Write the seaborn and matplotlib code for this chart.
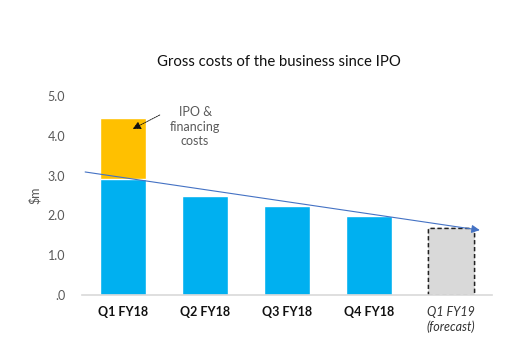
import pandas as pd
import matplotlib
matplotlib.use("Agg")
import matplotlib.pyplot as plt
import seaborn as sns
from matplotlib.ticker import FuncFormatter

quarters = ["Q1 FY18", "Q2 FY18", "Q3 FY18", "Q4 FY18", "Q1 FY19\n(forecast)"]
core_costs = [2.91, 2.49, 2.24, 1.98, 1.68]
ipo_costs = [1.54, 0, 0, 0, 0]
trend_start = (-0.46, 3.09)
trend_end = (4.35, 1.63)

df = pd.DataFrame({"quarter": quarters, "core": core_costs,
                   "total": [c + i for c, i in zip(core_costs, ipo_costs)]})

sns.set_style("white")
plt.rcParams["font.family"] = ["Lato", "DejaVu Sans"]

fig = plt.figure(figsize=(5.18, 3.59), dpi=100)
ax = fig.add_axes([0.158, 0.178, 0.792, 0.555])

# stacked: total in orange behind, core cost in blue on top
sns.barplot(data=df, x="quarter", y="total", color="#FFC000", width=0.56,
            saturation=1, ax=ax)
sns.barplot(data=df, x="quarter", y="core", color="#00B0F0", width=0.56,
            saturation=1, ax=ax)

# forecast bar: grey with dashed outline
for p in ax.patches:
    if abs(p.get_x() + p.get_width() / 2 - 4) < 0.01:
        p.set_facecolor("#D9D9D9")
        p.set_edgecolor("#222222")
        p.set_linestyle((0, (3, 2)))
        p.set_linewidth(1.0)

ax.set_xlim(-0.5, 4.5)
ax.set_ylim(0, 5)
ax.set_yticks([0, 1, 2, 3, 4, 5])
ax.yaxis.set_major_formatter(FuncFormatter(lambda v, _: ".0" if v == 0 else f"{v:.1f}"))
ax.tick_params(axis="y", labelsize=9, labelcolor="#595959", length=0, pad=12)
ax.tick_params(axis="x", length=0, pad=8)
ax.set_xlabel("")
ax.set_ylabel("$m", fontsize=9, color="#595959", labelpad=5)

for i, lab in enumerate(ax.get_xticklabels()):
    lab.set_fontsize(9)
    if i == 4:
        lab.set_fontstyle("italic")
        lab.set_color("#333333")
    else:
        lab.set_fontweight("bold")
        lab.set_color("#111111")

for s in ["left", "right", "top"]:
    ax.spines[s].set_visible(False)
ax.spines["bottom"].set_color("#D9D9D9")
ax.spines["bottom"].set_linewidth(1.2)

# trend arrow
ax.annotate("", xy=trend_end, xytext=trend_start,
            arrowprops=dict(arrowstyle="-|>", color="#4472C4", lw=0.8,
                            mutation_scale=12, shrinkA=0, shrinkB=0))

# IPO annotation
ax.annotate("", xy=(0.12, 4.17), xytext=(0.45, 4.52),
            arrowprops=dict(arrowstyle="-|>", color="#111111", lw=0.6,
                            linestyle=(0, (2, 1)), mutation_scale=12,
                            shrinkA=0, shrinkB=0))
ax.text(0.88, 4.22, "IPO &\nfinancing\ncosts", ha="center", va="center",
        fontsize=9, color="#595959", linespacing=1.25)

fig.text(0.539, 0.827, "Gross costs of the business since IPO", ha="center",
         va="center", fontsize=10.7, color="#111111")

fig.savefig("out.png", dpi=100)
